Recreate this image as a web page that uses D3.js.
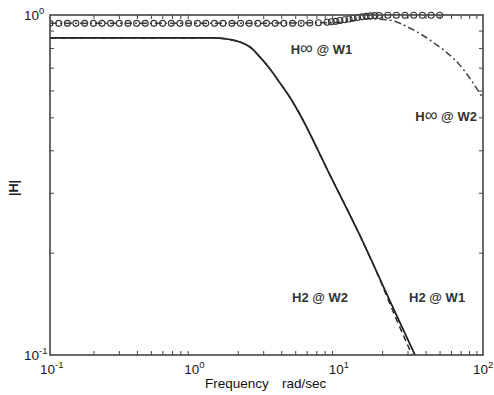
<!DOCTYPE html>
<html><head><meta charset="utf-8">
<script src="https://cdn.jsdelivr.net/npm/d3@7"></script>
<style>body{margin:0;background:#fff}svg{display:block}</style>
</head><body>
<script>
// ---- data ----
const solidFreq = [0.1, 0.5, 1.0, 1.39, 1.767, 2.072, 2.431, 2.851, 3.344, 3.922, 4.600, 5.228, 8.710, 14.51, 22.68, 33.27, 39.66];
const solidMag  = [0.856, 0.856, 0.856, 0.856, 0.847, 0.833, 0.805, 0.752, 0.694, 0.631, 0.572, 0.522, 0.338, 0.218, 0.1441, 0.1014, 0.0862];
const dashFreq  = [0.1, 0.5, 1.0, 1.39, 1.767, 2.072, 2.431, 2.851, 3.344, 3.922, 4.600, 5.228, 8.710, 14.51, 19.34, 24.56, 31.71, 36.6];
const dashMag   = [0.856, 0.856, 0.856, 0.856, 0.847, 0.833, 0.805, 0.752, 0.694, 0.631, 0.572, 0.522, 0.338, 0.218, 0.1662, 0.1302, 0.1014, 0.0873];
const dashDotFreq = [0.1, 1.0, 10.0, 15.3, 22.7, 31.3, 45.1, 69.3, 100];
const dashDotMag  = [0.945, 0.945, 0.95, 0.975, 0.965, 0.914, 0.831, 0.711, 0.569];
const circleFreq = [0.100,0.115,0.132,0.151,0.174,0.200,0.229,0.263,0.302,0.347,0.398,0.457,0.525,0.603,0.692,0.794,0.912,1.05,1.20,1.38,1.58,1.82,2.09,2.40,2.75,3.16,3.63,4.17,4.79,5.50,6.31,7.24,8.32,8.9,9.55,10.2,11.0,11.8,12.6,13.5,14.5,15.5,16.6,17.8,19.1,21.9,25.1,28.8,33.1,38.0,43.7,50.1];
const circleMag  = [0.945,0.945,0.945,0.945,0.945,0.945,0.945,0.945,0.945,0.945,0.945,0.945,0.945,0.945,0.945,0.945,0.945,0.945,0.945,0.945,0.945,0.945,0.945,0.945,0.945,0.945,0.945,0.945,0.945,0.945,0.947,0.949,0.952,0.955,0.958,0.963,0.968,0.973,0.978,0.983,0.988,0.991,0.994,0.996,0.997,0.998,0.998,0.998,0.998,0.998,0.998,0.998];
const xMajor = [0.1, 1, 10, 100];
const xMajorExp = ["-1", "0", "1", "2"];
const yMajor = [0.1, 1];
const yMajorExp = ["-1", "0"];
const labelHead = ["H\u221E", "H\u221E", "H2", "H2"];
const labelTail = [" @ W1", " @ W2", " @ W2", " @ W1"];
const labelFreq = [7.6, 55.5, 7.43, 48.1];
const labelMag  = [0.770, 0.488, 0.143, 0.143];

// ---- layout ----
const W = 494, H = 395;
const m = {l: 50, r: 11, t: 15, b: 40};
const iw = W - m.l - m.r, ih = H - m.t - m.b;
const svg = d3.select("body").append("svg").attr("width", W).attr("height", H)
  .style("font-family", "'Liberation Sans', Arial, sans-serif");
const x = d3.scaleLog().domain([0.1, 100]).range([m.l, m.l + iw]);
const y = d3.scaleLog().domain([0.1, 1]).range([m.t + ih, m.t]);

const minorX = [];
[0.1, 1, 10].forEach(d => { for (let k = 2; k <= 9; k++) minorX.push(+(d * k).toPrecision(3)); });
const minorY = [0.2,0.3,0.4,0.5,0.6,0.7,0.8,0.9];
const axCol = "#444";

function styleAxis(g){ g.select(".domain").remove(); g.selectAll("line").attr("stroke", axCol).attr("stroke-width", 1); g.selectAll("text").remove(); }
svg.append("g").attr("transform", `translate(0,${m.t+ih})`).call(d3.axisBottom(x).tickValues(minorX).tickSize(-4)).call(styleAxis);
svg.append("g").attr("transform", `translate(0,${m.t})`).call(d3.axisTop(x).tickValues(minorX).tickSize(-4)).call(styleAxis);
svg.append("g").attr("transform", `translate(${m.l},0)`).call(d3.axisLeft(y).tickValues(minorY).tickSize(-4)).call(styleAxis);
svg.append("g").attr("transform", `translate(${m.l+iw},0)`).call(d3.axisRight(y).tickValues(minorY).tickSize(-4)).call(styleAxis);

// clip
svg.append("clipPath").attr("id","c").append("rect").attr("x", m.l).attr("y", m.t-4).attr("width", iw).attr("height", ih+4);

const line = d3.line().x(d => x(d[0])).y(d => y(d[1])).curve(d3.curveMonotoneX);
const zip = (a, b) => a.map((v, i) => [v, b[i]]);
const plot = svg.append("g").attr("clip-path", "url(#c)");
plot.append("path").datum(zip(dashDotFreq, dashDotMag)).attr("d", line).attr("fill","none")
  .attr("stroke","#444").attr("stroke-width",1.5).attr("stroke-dasharray","7,3,2,3");
plot.append("path").datum(zip(solidFreq, solidMag)).attr("d", line).attr("fill","none")
  .attr("stroke","#1a1a1a").attr("stroke-width",1.7);
plot.append("path").datum(zip(dashFreq, dashMag)).attr("d", line).attr("fill","none")
  .attr("stroke","#2a2a2a").attr("stroke-width",1.5).attr("stroke-dasharray","6,4");
plot.selectAll("circle.c").data(zip(circleFreq, circleMag)).join("circle")
  .attr("cx", d => x(d[0])).attr("cy", d => y(d[1])).attr("r", 3)
  .attr("fill","none").attr("stroke","#333").attr("stroke-width",1.1);

// frame
svg.append("rect").attr("x", m.l).attr("y", m.t).attr("width", iw).attr("height", ih)
  .attr("fill","none").attr("stroke", axCol).attr("stroke-width",1.6);

// tick labels
const tf = 13.5;
xMajor.forEach((v, i) => {
  const t = svg.append("text").attr("x", x(v) - 10).attr("y", m.t + ih + 19).attr("font-size", tf).attr("fill","#1a1a1a");
  t.append("tspan").text("10");
  t.append("tspan").attr("dy", -6).attr("font-size", 9.5).text(xMajorExp[i]);
});
yMajor.forEach((v, i) => {
  const t = svg.append("text").attr("x", 24).attr("y", y(v) + 5).attr("font-size", tf).attr("fill","#1a1a1a");
  t.append("tspan").text("10");
  t.append("tspan").attr("dy", -6).attr("font-size", 9.5).text(yMajorExp[i]);
});

// curve labels
labelHead.forEach((s, i) => {
  const t = svg.append("text").attr("x", x(labelFreq[i])).attr("y", y(labelMag[i])).attr("text-anchor","middle")
    .attr("font-size", 13).attr("font-weight", "bold").attr("fill","#333");
  if (s.length > 1 && s[1] === "\u221E") {
    t.append("tspan").text("H");
    t.append("tspan").attr("font-size", 18).attr("font-weight","normal").text("\u221E");
  } else {
    t.append("tspan").text(s);
  }
  t.append("tspan").text(labelTail[i]);
});

// axis titles
svg.append("text").attr("x", 205).attr("y", 388).attr("font-size", 13.5).attr("fill","#111").text("Frequency");
svg.append("text").attr("x", 282).attr("y", 388).attr("font-size", 13.5).attr("fill","#111").text("rad/sec");
svg.append("text").attr("transform", "translate(18,188) rotate(-90)").attr("text-anchor","middle")
  .attr("font-size", 12.5).attr("font-weight","bold").attr("fill","#222").text("|H|");
</script>
</body></html>
